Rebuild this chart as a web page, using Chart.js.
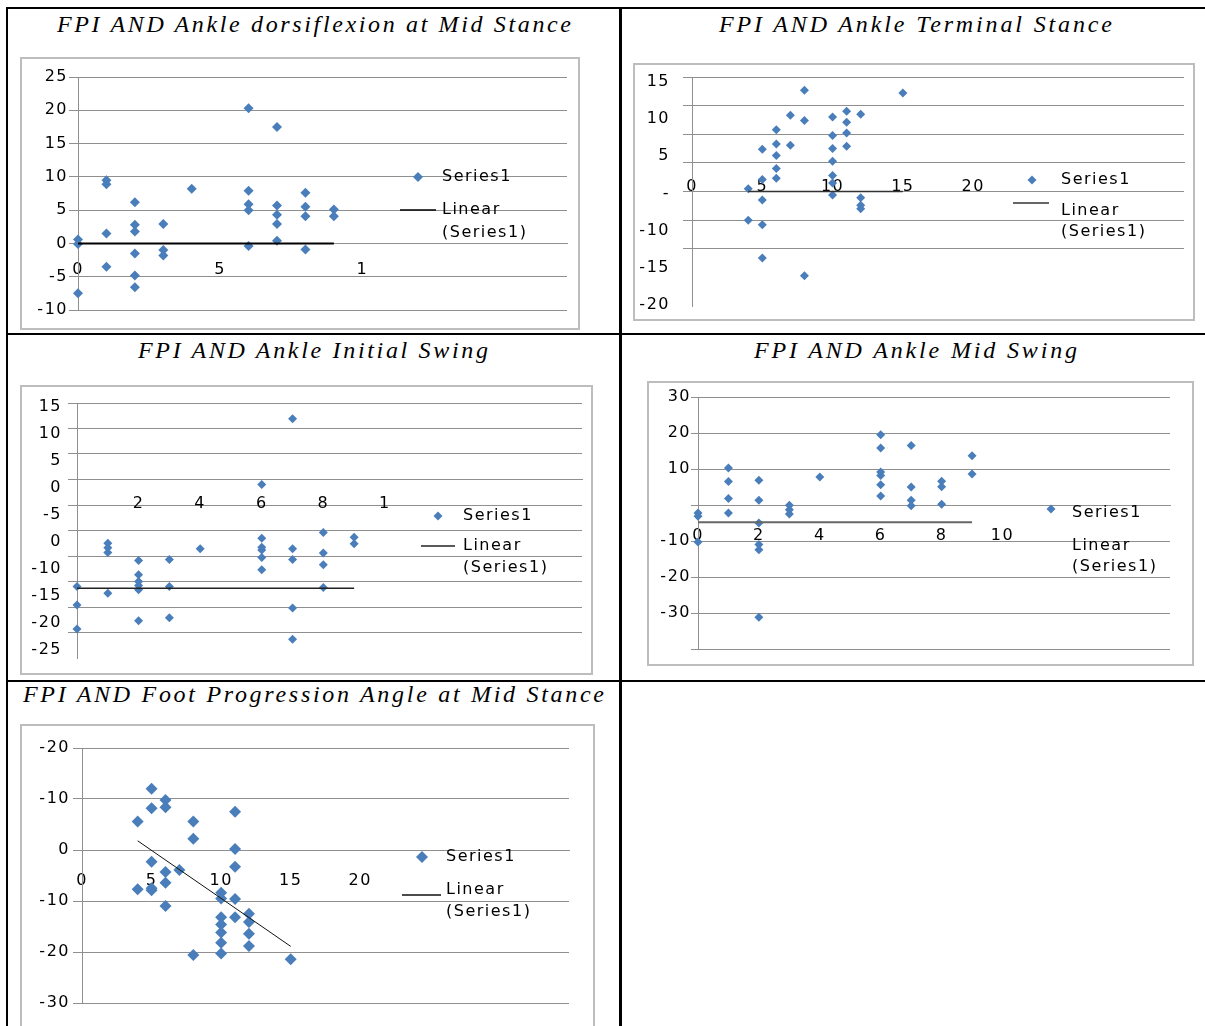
<!DOCTYPE html>
<html>
<head>
<meta charset="utf-8">
<script src="https://cdn.jsdelivr.net/npm/chart.js@4.4.1/dist/chart.umd.min.js"></script>
<style>
  body { margin: 0; background: #fff; }
  #page { position: relative; width: 1205px; height: 1026px; overflow: hidden; background: #fff; }
  .rule { position: absolute; background: #000; }
  .title { position: absolute; font-family: "Liberation Serif", "Times New Roman", serif; font-style: italic;
           font-size: 24px; line-height: 24px; white-space: nowrap; color: #000; }
  .frame { position: absolute; border: 2px solid #bdbdbd; box-sizing: border-box; }
  .frame canvas { display: block; }
</style>
</head>
<body>
<div id="page">
  <!-- table rules -->
  <div class="rule" style="left:6px;top:7px;width:1199px;height:2px"></div>
  <div class="rule" style="left:6px;top:7px;width:2px;height:1019px"></div>
  <div class="rule" style="left:619px;top:7px;width:3px;height:1019px"></div>
  <div class="rule" style="left:6px;top:333px;width:1199px;height:2px"></div>
  <div class="rule" style="left:6px;top:680px;width:1199px;height:2px"></div>

  <div class="title" data-w="514" style="left:57px;top:12px">FPI AND Ankle dorsiflexion at Mid Stance</div>
  <div class="title" data-w="393" style="left:719px;top:12px">FPI AND Ankle Terminal Stance</div>
  <div class="title" data-w="350" style="left:138px;top:338px">FPI AND Ankle Initial Swing</div>
  <div class="title" data-w="323" style="left:754px;top:338px">FPI AND Ankle Mid Swing</div>
  <div class="title" data-w="581" style="left:23px;top:682px">FPI AND Foot Progression Angle at Mid Stance</div>

  <div class="frame" id="f1"><canvas id="c1"></canvas></div>
  <div class="frame" id="f2"><canvas id="c2"></canvas></div>
  <div class="frame" id="f3"><canvas id="c3"></canvas></div>
  <div class="frame" id="f4"><canvas id="c4"></canvas></div>
  <div class="frame" id="f5"><canvas id="c5"></canvas></div>
</div>
<script>
// FPI on x, angle on y -- one pair of arrays per chart

// Ankle dorsiflexion at mid stance
const dorsiFpi = [0,0,0, 1,1,1,1, 2,2,2,2,2,2, 3,3,3, 4, 6,6,6,6,6, 7,7,7,7,7, 8,8,8,8, 9,9];
const dorsiAngle = [0.6,-0.1,-7.5, 9.5,8.9,1.5,-3.5, 6.2,2.8,1.8,-1.5,-4.8,-6.6, 2.9,-1.0,-1.8, 8.2,
                    20.3,7.9,5.9,5.0,-0.4, 17.5,5.7,4.3,2.9,0.4, 7.6,5.5,4.1,-0.9, 5.1,4.1];
const dorsiTrendFpi = [0, 9];
const dorsiTrendAngle = [0, 0];
const dorsiXTicks = [0, 5, 10];
const dorsiXText = ['0', '5', '1'];
const dorsiYTicks = [25, 20, 15, 10, 5, 0, -5, -10];
const dorsiYText = ['25', '20', '15', '10', '5', '0', '-5', '-10'];

// Ankle terminal stance
const termFpi = [4,4, 5,5,5,5,5, 6,6,6,6,6, 7,7, 8,8,8, 10,10,10,10,10,10,10, 11,11,11,11, 12,12,12,12, 15];
const termAngle = [-4.5,-10.0, 2.4,-2.9,-6.5,-10.8,-16.6, 5.8,3.3,1.3,-1.0,-2.7, 8.3,3.1, 12.7,7.4,-19.7,
                   8.0,4.8,2.5,0.3,-2.2,-3.5,-5.6, 9.0,7.1,5.2,2.9, 8.5,-6.1,-7.4,-8.0, 12.2];
const termTrendFpi = [4, 15];
const termTrendAngle = [-5, -5];
const termXTicks = [0, 5, 10, 15, 20];
const termXText = ['0', '5', '10', '15', '20'];
const termYTicks = [15, 10, 5, 0, -5, -10, -15, -20, -25];
const termYText = ['15', '10', '5', '-', '-10', '-15', '-20'];

// Ankle initial swing
const initFpi = [0,0,0, 1,1,1,1, 2,2,2,2,2,2, 3,3,3, 4, 6,6,6,6,6,6, 7,7,7,7,7, 8,8,8,8, 9,9];
const initAngle = [-21.0,-24.6,-29.3, -12.5,-13.4,-14.3,-22.3, -15.9,-18.7,-20.0,-20.8,-21.6,-27.7,
                   -15.7,-21.0,-27.1, -13.6, -1.0,-11.5,-13.3,-13.8,-15.3,-17.7,
                   11.9,-13.6,-15.7,-25.2,-31.3, -10.4,-14.4,-16.7,-21.2, -11.3,-12.6];
const initTrendFpi = [0, 9];
const initTrendAngle = [-21.3, -21.3];
const initXTicks = [2, 4, 6, 8, 10];
const initXText = ['2', '4', '6', '8', '1'];
const initYTicks = [15, 10, 5, 0, -5, -10, -15, -20, -25, -30, -35];
const initYText = ['15', '10', '5', '0', '-5', '0', '-10', '-15', '-20', '-25'];

// Ankle mid swing
const swingFpi = [0,0,0, 1,1,1,1, 2,2,2,2,2,2, 3,3,3, 4, 6,6,6,6,6,6, 7,7,7,7, 8,8,8, 9,9];
const swingAngle = [-2.2,-3.1,-10.3, 10.3,6.5,1.8,-2.2, 6.9,1.3,-5.0,-11.0,-12.4,-31.2, -0.1,-1.3,-2.5, 7.8,
                    19.5,15.8,9.2,8.2,5.6,2.5, 16.5,5.0,1.3,-0.2, 6.6,5.1,0.2, 13.7,8.6];
const swingTrendFpi = [0, 9];
const swingTrendAngle = [-4.8, -4.8];
const swingXTicks = [0, 2, 4, 6, 8, 10];
const swingXText = ['0', '2', '4', '6', '8', '10'];
const swingYTicks = [30, 20, 10, 0, -10, -20, -30, -40];
const swingYText = ['30', '20', '10', '', '-10', '-20', '-30', ''];

// Foot progression angle at mid stance
const fpaFpi = [4,4, 5,5,5,5,5, 6,6,6,6,6, 7, 8,8,8, 10,10,10,10,10,10,10, 11,11,11,11,11, 12,12,12,12, 15];
const fpaAngle = [5.6,-7.7, 12.0,8.2,-2.3,-7.5,-7.9, 9.8,8.4,-4.3,-6.4,-11.0, -3.9, 5.6,2.2,-20.6,
                  -8.4,-9.5,-13.2,-14.6,-16.2,-18.2,-20.3, 7.5,0.2,-3.3,-9.6,-13.2, -12.5,-14.1,-16.4,-18.8, -21.4];
const fpaTrendFpi = [4, 15];
const fpaTrendAngle = [1.8, -18.9];
const fpaXTicks = [0, 5, 10, 15, 20];
const fpaXText = ['0', '5', '10', '15', '20'];
const fpaYTicks = [20, 10, 0, -10, -20, -30];
const fpaYText = ['-20', '-10', '0', '-10', '-20', '-30'];

const blue = '#4a7ebb';
const gridGray = '#8f8f8f';
const FONT = { family: 'DejaVu Sans', size: 16 };
const SPACING = '1.5px';

Chart.defaults.font.family = 'DejaVu Sans';
Chart.defaults.font.size = 16;
Chart.defaults.color = '#000';

// stretch the titles to the width they have in the scan
document.querySelectorAll('.title').forEach(el => {
  el.style.letterSpacing = '0px';
  const nat = el.getBoundingClientRect().width;
  const n = el.textContent.length;
  el.style.letterSpacing = ((+el.dataset.w - nat) / (n - 1)) + 'px';
});

// the scanned text runs wide, so loosen all canvas text a little
const wideText = {
  id: 'wideText',
  beforeDraw(chart) { chart.ctx.letterSpacing = SPACING; },
  afterDraw(chart) { chart.ctx.letterSpacing = '0px'; }
};

// legend drawn on top of the plot, like the Excel original
const sideLegend = {
  id: 'sideLegend',
  afterDraw(chart, args, o) {
    const ctx = chart.ctx;
    const pts = chart.data.datasets[0];
    const lin = chart.data.datasets[1].label.split(' ');
    ctx.save();
    ctx.letterSpacing = SPACING;
    ctx.font = '16px "DejaVu Sans"';
    ctx.fillStyle = '#000';
    ctx.textBaseline = 'middle';
    ctx.fillText(pts.label, o.x, o.rows[0]);
    ctx.fillText(lin[0], o.x, o.rows[1]);
    ctx.fillText(lin[1], o.x, o.rows[2]);
    const r = pts.pointRadius;
    ctx.fillStyle = blue;
    ctx.beginPath();
    ctx.moveTo(o.mx - r, o.my);
    ctx.lineTo(o.mx, o.my - r);
    ctx.lineTo(o.mx + r, o.my);
    ctx.lineTo(o.mx, o.my + r);
    ctx.closePath();
    ctx.fill();
    if (o.line) {
      ctx.strokeStyle = chart.data.datasets[1].borderColor;
      ctx.lineWidth = 1.5;
      ctx.beginPath();
      ctx.moveTo(o.line[0], o.line[2]);
      ctx.lineTo(o.line[1], o.line[2]);
      ctx.stroke();
    }
    ctx.restore();
  }
};

function pairs(xs, ys) {
  return xs.map((x, i) => ({ x: x, y: ys[i] }));
}

function makeChart(c) {
  const [fl, ft, fw, fh] = c.frame;
  const frame = document.getElementById(c.frameId);
  Object.assign(frame.style, { left: fl + 'px', top: ft + 'px', width: fw + 'px', height: fh + 'px' });
  const cl = fl + 2, ct = ft + 2, cw = fw - 4, ch = fh - 4;
  const canvas = document.getElementById(c.id);
  canvas.width = cw;
  canvas.height = ch;
  const [pl, pr, pt, pb] = c.plot;
  const leftSpace = pl - cl;

  const scales = {
    x: {
      type: 'linear', min: c.xMin, max: c.xMax, position: { y: 0 },
      grid: { display: false, drawTicks: false },
      border: { color: gridGray, width: 1 },
      ticks: { font: FONT, color: '#000', padding: c.xPad, autoSkip: false, maxRotation: 0,
               callback: (v, i) => c.xText[i] },
      afterBuildTicks: s => { s.ticks = c.xTicks.map(v => ({ value: v })); }
    },
    y: {
      type: 'linear', position: 'left', min: c.yMin, max: c.yMax, weight: 0,
      grid: { color: gridGray, lineWidth: 1, drawTicks: true, tickLength: c.tick, tickColor: gridGray },
      border: { color: gridGray, width: 1 },
      ticks: { display: !c.labelAxis, font: FONT, color: '#000', padding: c.yPad,
               callback: (v, i) => c.yText[i] },
      afterBuildTicks: s => { s.ticks = c.yTicks.map(v => ({ value: v })); },
      afterFit: s => {
        s.width = c.labelAxis ? c.tick : leftSpace;
        s.paddingTop = 0;
        s.paddingBottom = 0;
      }
    }
  };

  if (c.labelAxis) {
    // tick text sits off the gridlines in the scan, so it gets its own axis
    const n = c.yText.length;
    const step = (c.labelAxis[1] - c.labelAxis[0]) / (n - 1);
    scales.yl = {
      type: 'linear', position: 'left', reverse: true, weight: 1,
      min: -(c.labelAxis[0] - pt) / step, max: (n - 1) + (pb - c.labelAxis[1]) / step,
      grid: { display: false, drawTicks: false }, border: { display: false },
      ticks: { font: FONT, color: '#000', padding: c.yPad, callback: (v, i) => c.yText[i] },
      afterBuildTicks: s => { s.ticks = c.yText.map((t, i) => ({ value: i })); },
      afterFit: s => {
        s.width = leftSpace - c.tick;
        s.paddingTop = 0;
        s.paddingBottom = 0;
      }
    };
  }

  const lg = c.legend;
  return new Chart(canvas, {
    type: 'scatter',
    data: {
      datasets: [
        { label: 'Series1', data: pairs(c.xs, c.ys), pointStyle: 'rectRot', pointRadius: c.r,
          pointHoverRadius: c.r, backgroundColor: blue, borderColor: blue, borderWidth: 0,
          clip: false, order: 1 },
        { label: 'Linear (Series1)', data: pairs(c.tx, c.ty), showLine: true, pointRadius: 0,
          borderColor: c.trendColor, borderWidth: c.trendWidth, fill: false, clip: false, order: 0 }
      ]
    },
    options: {
      responsive: false, animation: false, events: [],
      layout: { padding: { left: 0, right: cl + cw - pr, top: pt - ct, bottom: ct + ch - pb } },
      scales: scales,
      plugins: {
        legend: { display: false }, tooltip: { enabled: false },
        sideLegend: {
          x: lg.x - cl, rows: lg.rows.map(v => v - ct), mx: lg.mx - cl, my: lg.my - ct,
          line: lg.line ? [lg.line[0] - cl, lg.line[1] - cl, lg.line[2] - ct] : null
        }
      }
    },
    plugins: [wideText, sideLegend]
  });
}

makeChart({
  id: 'c1', frameId: 'f1', frame: [20, 57, 560, 273], plot: [78, 567, 77, 310],
  xs: dorsiFpi, ys: dorsiAngle, tx: dorsiTrendFpi, ty: dorsiTrendAngle,
  xMin: 0, xMax: 17.2, xTicks: dorsiXTicks, xText: dorsiXText, xPad: 17,
  yMin: -10, yMax: 25, yTicks: dorsiYTicks, yText: dorsiYText, tick: 9, yPad: 1,
  r: 5, trendColor: '#000', trendWidth: 2,
  legend: { x: 442, rows: [177, 210, 233], mx: 418, my: 177, line: [400, 436, 210] }
});

makeChart({
  id: 'c2', frameId: 'f2', frame: [633, 63, 562, 258], plot: [692, 1184, 77, 306],
  xs: termFpi, ys: termAngle, tx: termTrendFpi, ty: termTrendAngle,
  xMin: 0, xMax: 35, xTicks: termXTicks, xText: termXText, xPad: 14,
  yMin: -25, yMax: 15, yTicks: termYTicks, yText: termYText, tick: 9, yPad: 13,
  labelAxis: [82, 305],
  r: 4.5, trendColor: '#333', trendWidth: 1.5,
  legend: { x: 1061, rows: [180, 211, 232], mx: 1032, my: 180, line: [1013, 1049, 203] }
});

makeChart({
  id: 'c3', frameId: 'f3', frame: [20, 385, 573, 290], plot: [77, 582, 403, 658],
  xs: initFpi, ys: initAngle, tx: initTrendFpi, ty: initTrendAngle,
  xMin: 0, xMax: 16.4, xTicks: initXTicks, xText: initXText, xPad: 15,
  yMin: -35, yMax: 15, yTicks: initYTicks, yText: initYText, tick: 9, yPad: 6,
  labelAxis: [407, 650],
  r: 4.5, trendColor: '#222', trendWidth: 1.5,
  legend: { x: 463, rows: [516, 546, 568], mx: 438, my: 516, line: [421, 455, 546] }
});

makeChart({
  id: 'c4', frameId: 'f4', frame: [647, 381, 547, 285], plot: [698, 1170, 397, 649],
  xs: swingFpi, ys: swingAngle, tx: swingTrendFpi, ty: swingTrendAngle,
  xMin: 0, xMax: 15.5, xTicks: swingXTicks, xText: swingXText, xPad: 21,
  yMin: -40, yMax: 30, yTicks: swingYTicks, yText: swingYText, tick: 7, yPad: 0,
  r: 4.5, trendColor: '#666', trendWidth: 2,
  legend: { x: 1072, rows: [513, 546, 567], mx: 1051, my: 509, line: null }
});

makeChart({
  id: 'c5', frameId: 'f5', frame: [20, 724, 575, 320], plot: [82, 569, 748, 1003],
  xs: fpaFpi, ys: fpaAngle, tx: fpaTrendFpi, ty: fpaTrendAngle,
  xMin: 0, xMax: 35, xTicks: fpaXTicks, xText: fpaXText, xPad: 21,
  yMin: -30, yMax: 20, yTicks: fpaYTicks, yText: fpaYText, tick: 9, yPad: 3,
  r: 6, trendColor: '#111', trendWidth: 1,
  legend: { x: 446, rows: [857, 890, 912], mx: 422, my: 857, line: [402, 441, 895] }
});
</script>
</body>
</html>
